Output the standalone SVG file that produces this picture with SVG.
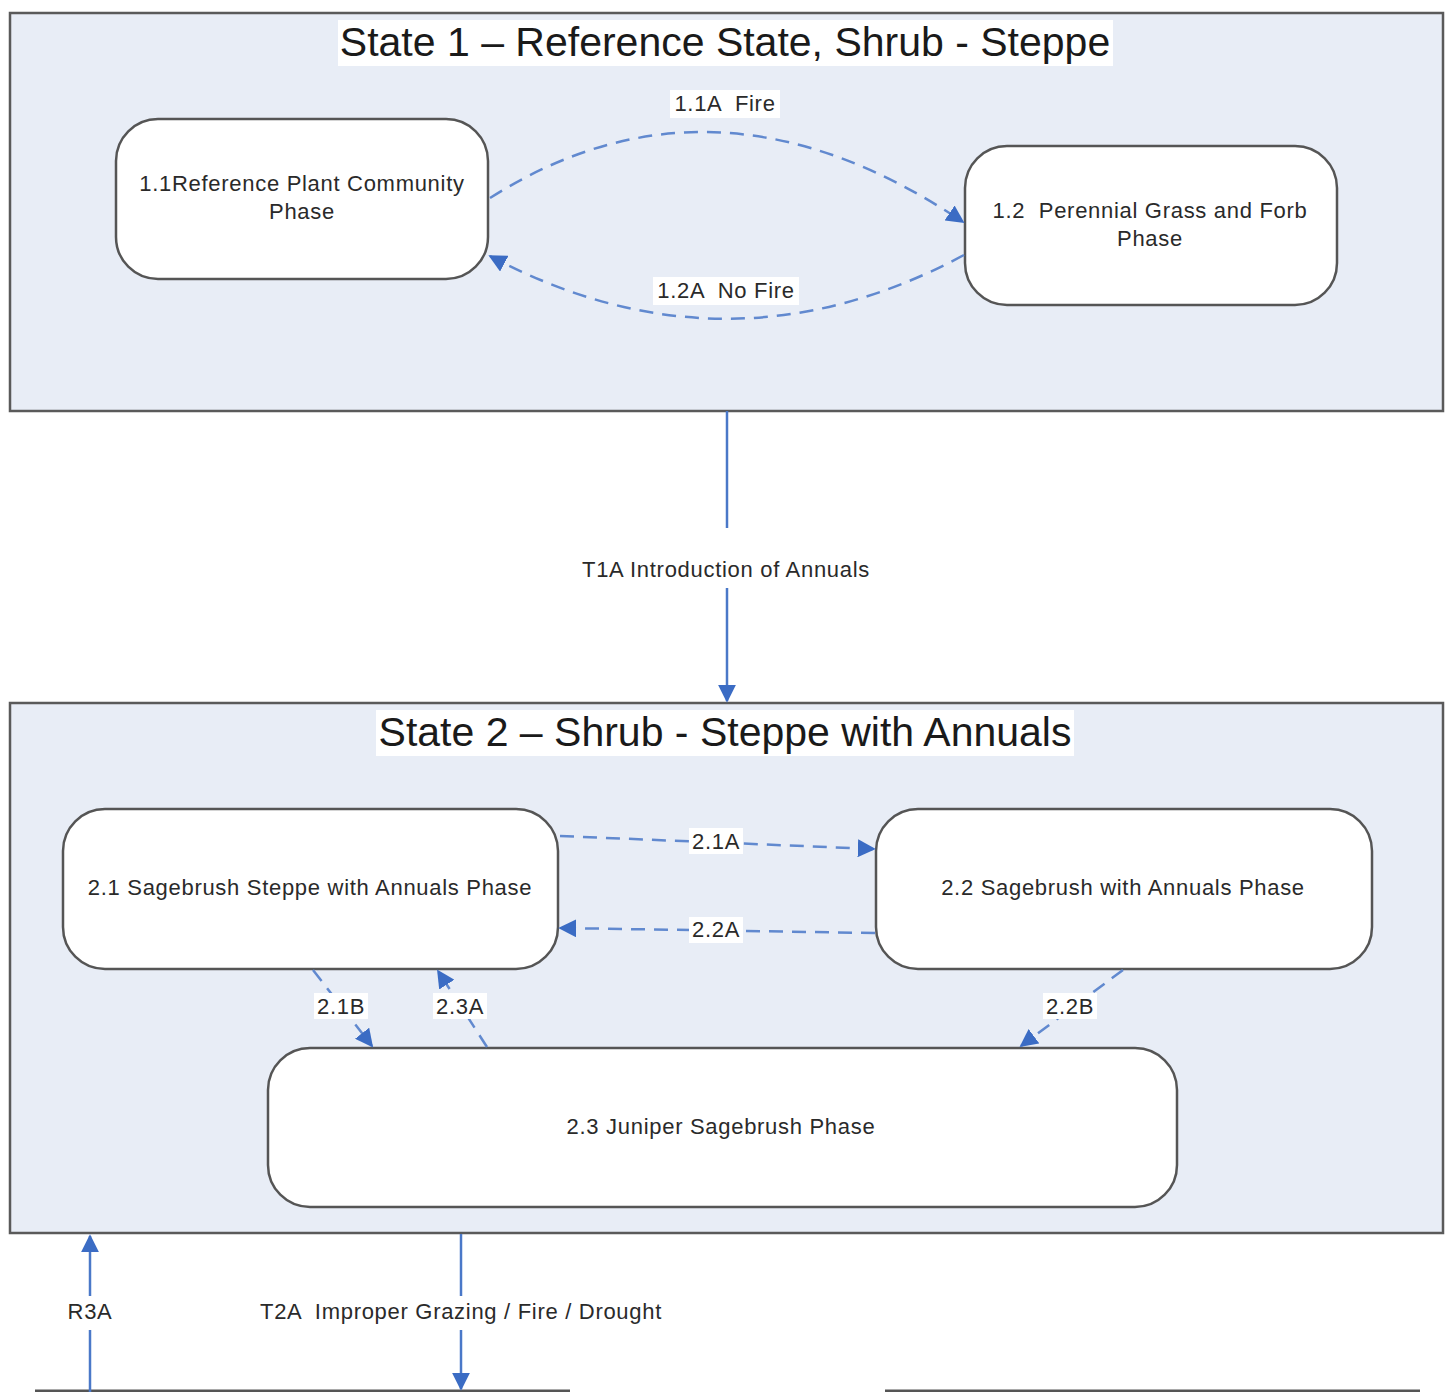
<svg xmlns="http://www.w3.org/2000/svg" width="1449" height="1392" viewBox="0 0 1449 1392">
<defs>
<style>
.state{fill:#e8edf6;stroke:#5a5a5a;stroke-width:2.5}
.node{fill:#ffffff;stroke:#555555;stroke-width:2.5}
.title{font-family:"Liberation Sans",Arial,sans-serif;font-size:41px;fill:#1a1a1a;text-anchor:middle}
.nt{font-family:"Liberation Sans",Arial,sans-serif;font-size:22px;letter-spacing:0.7px;fill:#2a2a2a;text-anchor:middle}
.lbl{font-family:"Liberation Sans",Arial,sans-serif;font-size:22px;letter-spacing:0.7px;fill:#2a2a2a;text-anchor:middle}
.dash{fill:none;stroke:#6189cf;stroke-width:2.5;stroke-dasharray:14 9}
.solid{fill:none;stroke:#4a78c8;stroke-width:2.5}
.bg{fill:#ffffff}
</style>
<marker id="ahs" viewBox="0 0 10 10" refX="9" refY="5" markerWidth="18" markerHeight="18" markerUnits="userSpaceOnUse" orient="auto">
<path d="M0,0 L10,5 L0,10 z" fill="#3b6cc4"/>
</marker>
</defs>
<rect width="1449" height="1392" fill="#ffffff"/>

<g id="state1">
<rect class="state" x="10" y="13" width="1433" height="398"/>
<rect class="bg" x="338" y="20" width="775" height="46"/>
<text class="title" x="725" y="56">State 1 – Reference State, Shrub - Steppe</text>
</g>

<g id="state2">
<rect class="state" x="10" y="703" width="1433" height="530"/>
<rect class="bg" x="376" y="710" width="698" height="46"/>
<text class="title" x="725" y="746">State 2 – Shrub - Steppe with Annuals</text>
</g>

<g id="node11">
<rect class="node" x="116" y="119" width="372" height="160" rx="42"/>
<text class="nt" x="302" y="191">1.1Reference Plant Community</text>
<text class="nt" x="302" y="219">Phase</text>
</g>

<g id="node12">
<rect class="node" x="965" y="146" width="372" height="159" rx="42"/>
<text class="nt" x="1150" y="218" xml:space="preserve">1.2  Perennial Grass and Forb</text>
<text class="nt" x="1150" y="246">Phase</text>
</g>

<g id="node21">
<rect class="node" x="63" y="809" width="495" height="160" rx="42"/>
<text class="nt" x="310" y="895">2.1 Sagebrush Steppe with Annuals Phase</text>
</g>

<g id="node22">
<rect class="node" x="876" y="809" width="496" height="160" rx="42"/>
<text class="nt" x="1123" y="895">2.2 Sagebrush with Annuals Phase</text>
</g>

<g id="node23">
<rect class="node" x="268" y="1048" width="909" height="159" rx="42"/>
<text class="nt" x="721" y="1134">2.3 Juniper Sagebrush Phase</text>
</g>

<g id="bottom">
<line x1="35" y1="1391" x2="570" y2="1391" stroke="#555555" stroke-width="3"/>
<line x1="885" y1="1391" x2="1420" y2="1391" stroke="#555555" stroke-width="3"/>
</g>

<g id="connectors">
<path class="dash" d="M490,198 Q715,55 963,222" marker-end="url(#ahs)"/>
<path class="dash" d="M964,255 Q727,382 490,256" marker-end="url(#ahs)"/>
<rect class="bg" x="670" y="90" width="110" height="28"/>
<text class="lbl" x="725" y="111" xml:space="preserve">1.1A  Fire</text>
<rect class="bg" x="653" y="277" width="146" height="28"/>
<text class="lbl" x="726" y="298" xml:space="preserve">1.2A  No Fire</text>

<line class="solid" x1="727" y1="411" x2="727" y2="528"/>
<line class="solid" x1="727" y1="588" x2="727" y2="701" marker-end="url(#ahs)"/>
<text class="lbl" x="726" y="577">T1A Introduction of Annuals</text>

<path class="dash" d="M560,836 L874,849" marker-end="url(#ahs)"/>
<rect class="bg" x="689" y="828" width="54" height="26"/>
<text class="lbl" x="716" y="849">2.1A</text>
<path class="dash" d="M875,933 L560,928" marker-end="url(#ahs)"/>
<rect class="bg" x="689" y="917" width="54" height="26"/>
<text class="lbl" x="716" y="937">2.2A</text>

<path class="dash" d="M313,970 L372,1046" marker-end="url(#ahs)"/>
<rect class="bg" x="314" y="993" width="54" height="26"/>
<text class="lbl" x="341" y="1014">2.1B</text>
<path class="dash" d="M487,1047 L438,971" marker-end="url(#ahs)"/>
<rect class="bg" x="433" y="993" width="54" height="26"/>
<text class="lbl" x="460" y="1014">2.3A</text>
<path class="dash" d="M1123,970 L1021,1046" marker-end="url(#ahs)"/>
<rect class="bg" x="1043" y="993" width="54" height="26"/>
<text class="lbl" x="1070" y="1014">2.2B</text>

<line class="solid" x1="90" y1="1392" x2="90" y2="1330"/>
<line class="solid" x1="90" y1="1296" x2="90" y2="1236" marker-end="url(#ahs)"/>
<text class="lbl" x="90" y="1319">R3A</text>
<line class="solid" x1="461" y1="1234" x2="461" y2="1296"/>
<line class="solid" x1="461" y1="1330" x2="461" y2="1389" marker-end="url(#ahs)"/>
<text class="lbl" x="461" y="1319" xml:space="preserve">T2A  Improper Grazing / Fire / Drought</text>
</g>
</svg>
